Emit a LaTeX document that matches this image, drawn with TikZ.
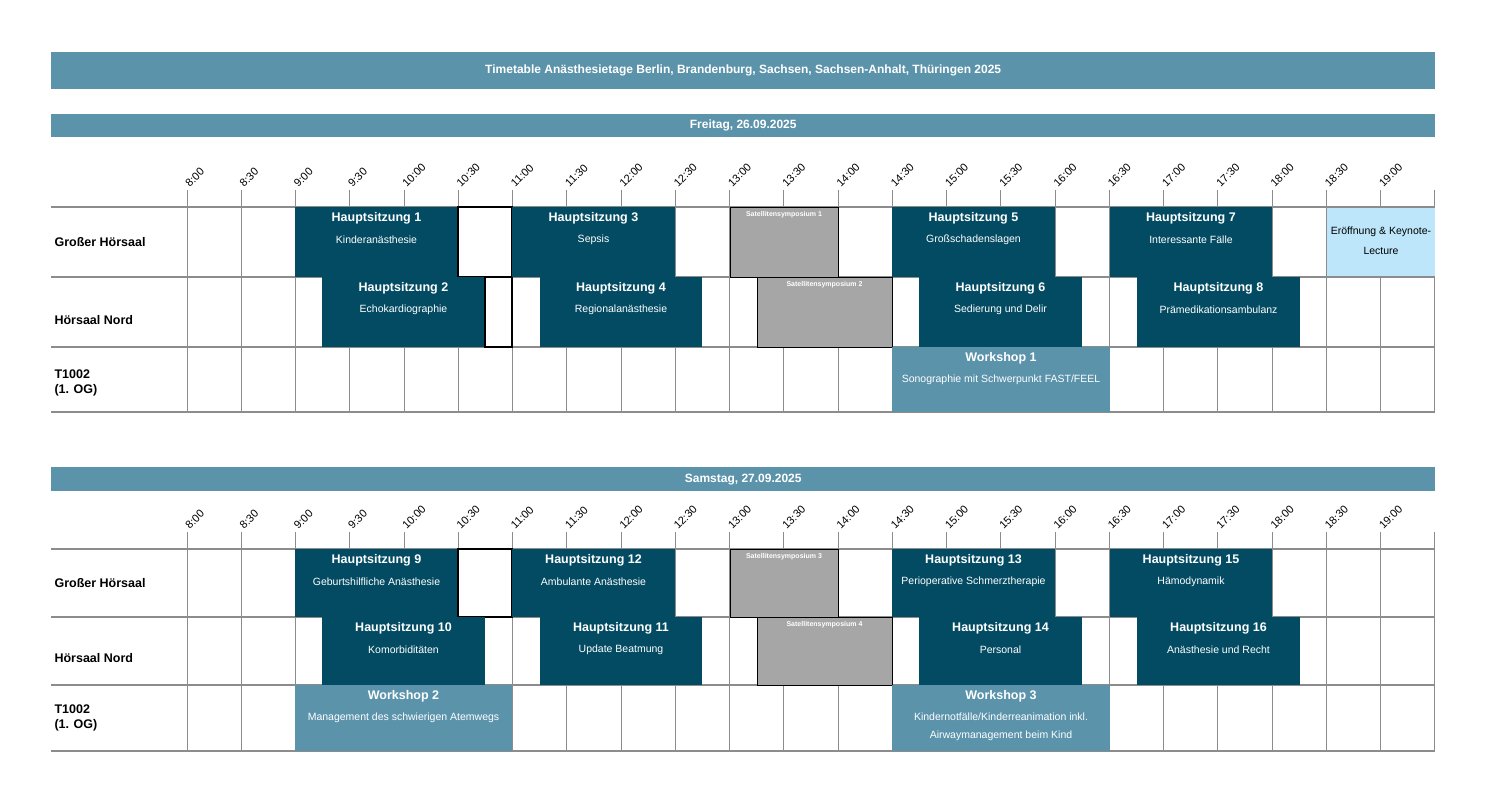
\documentclass[tikz,border=0pt]{standalone}
\usepackage{fontspec}
\setmainfont{Liberation Sans}
\definecolor{hdr}{HTML}{5B93AB}
\definecolor{dark}{HTML}{034B63}
\definecolor{sat}{HTML}{A6A6A6}
\definecolor{lb}{HTML}{BDE6FA}
\definecolor{grid}{HTML}{8C8C8C}
\tikzset{
 bar/.style={fill=hdr,draw=none,text=white,font=\bfseries\fontsize{12}{14}\selectfont},
 gl/.style={draw=grid,line width=1pt},
 hl/.style={draw=grid,line width=1.8pt},
 tlab/.style={rotate=45,anchor=south west,font=\fontsize{11}{12}\selectfont,inner sep=0pt},
 rlab/.style={anchor=west,align=left,font=\bfseries\fontsize{12.5}{15}\selectfont},
 stitle/.style={text=white,font=\bfseries\fontsize{12.5}{14}\selectfont,inner sep=0pt},
 ssub/.style={text=white,font=\fontsize{10.5}{14}\selectfont,inner sep=0pt,align=center},
 satt/.style={text=white,font=\bfseries\fontsize{7}{8}\selectfont,inner sep=0pt},
}
% \sess{name}{x1}{x2}{ytop}{ybot}{fill}{title}{sub}
\newcommand{\sess}[8]{%
 \fill[#6] (#2,#4) rectangle (#3,#5);
 \node[stitle] (#1t) at ({(#2+#3)/2},#4+11) {#7};
 \node[ssub] (#1s) at ({(#2+#3)/2},#4+33) {#8};}
\newcommand{\satbox}[6]{%
 \draw[fill=sat,line width=1pt] (#2,#3) rectangle (#4,#5);
 \node[satt] (#1) at ({(#2+#4)/2},#3+8) {#6};}
\newcommand{\dayscaffold}[6]{% ytime, r1,r2,r3,r4 , prefix
 \foreach \i/\t in {0/8:00,1/8:30,2/9:00,3/9:30,4/10:00,5/10:30,6/11:00,7/11:30,8/12:00,9/12:30,10/13:00,11/13:30,12/14:00,13/14:30,14/15:00,15/15:30,16/16:00,17/16:30,18/17:00,19/17:30,20/18:00,21/18:30,22/19:00}{
   \node[tlab] (#6t\i) at ({187+54.26*\i+3},#1) {\t};}
 \foreach \i in {0,...,23}{ \draw[gl] ({187+54.26*\i},#1+2) -- ({187+54.26*\i},#5);}
 \foreach \y in {#2,#3,#4,#5}{ \draw[hl] (51,\y) -- (1435,\y);}
}
\begin{document}
\begin{tikzpicture}[x=1pt,y=-1pt]
\useasboundingbox (0,0) rectangle (1500,796);
\node[bar,minimum width=1384pt,minimum height=37pt,anchor=north west] (title) at (51,52) {Timetable Anästhesietage Berlin, Brandenburg, Sachsen, Sachsen-Anhalt, Thüringen 2025};
% ---------- Day 1
\node[bar,minimum width=1384pt,minimum height=23pt,anchor=north west] (d1) at (51,114) {Freitag, 26.09.2025};
\dayscaffold{188}{207}{277}{347}{412}{a}
\node[rlab] (a1) at (51,242) {Großer Hörsaal};
\node[rlab] (a2) at (51,320) {Hörsaal Nord};
\node[rlab] (a3) at (51,383) {T1002\\(1. OG)};
\sess{h1}{295}{458}{207}{277}{dark}{Hauptsitzung 1}{Kinderanästhesie}
\draw[line width=1.2pt] (458,207) rectangle (512,277);
\sess{h2}{322}{485}{277}{347}{dark}{Hauptsitzung 2}{Echokardiographie}
\draw[line width=1.2pt] (485,277) rectangle (512,347);
\sess{h3}{512}{675}{207}{277}{dark}{Hauptsitzung 3}{Sepsis}
\sess{h4}{540}{702}{277}{347}{dark}{Hauptsitzung 4}{Regionalanästhesie}
\satbox{s1}{730}{207}{838}{277}{Satellitensymposium 1}
\satbox{s2}{757}{277}{892}{347}{Satellitensymposium 2}
\sess{h5}{892}{1055}{207}{277}{dark}{Hauptsitzung 5}{Großschadenslagen}
\sess{h6}{919}{1082}{277}{347}{dark}{Hauptsitzung 6}{Sedierung und Delir}
\sess{h7}{1110}{1272}{207}{277}{dark}{Hauptsitzung 7}{Interessante Fälle}
\sess{h8}{1137}{1300}{277}{347}{dark}{Hauptsitzung 8}{Prämedikationsambulanz}
\fill[lb] (1327,208) rectangle (1435,276);
\node[font=\fontsize{10.5}{20}\selectfont,align=center,inner sep=0pt] (eroe) at (1381,241) {Eröffnung \& Keynote-\\Lecture};
\sess{w1}{892}{1110}{347}{412}{hdr}{Workshop 1}{Sonographie mit Schwerpunkt FAST/FEEL}
% ---------- Day 2
\node[bar,minimum width=1384pt,minimum height=24pt,anchor=north west] (d2) at (51,467) {Samstag, 27.09.2025};
\dayscaffold{530}{549}{617}{685}{751}{b}
\node[rlab] (b1) at (51,583) {Großer Hörsaal};
\node[rlab] (b2) at (51,658) {Hörsaal Nord};
\node[rlab] (b3) at (51,718) {T1002\\(1. OG)};
\sess{h9}{295}{458}{549}{617}{dark}{Hauptsitzung 9}{Geburtshilfliche Anästhesie}
\draw[line width=1.2pt] (458,549) rectangle (512,617);
\sess{h10}{322}{485}{617}{685}{dark}{Hauptsitzung 10}{Komorbiditäten}
\sess{h12}{512}{675}{549}{617}{dark}{Hauptsitzung 12}{Ambulante Anästhesie}
\sess{h11}{540}{702}{617}{685}{dark}{Hauptsitzung 11}{Update Beatmung}
\satbox{s3}{730}{549}{838}{617}{Satellitensymposium 3}
\satbox{s4}{757}{617}{892}{685}{Satellitensymposium 4}
\sess{h13}{892}{1055}{549}{617}{dark}{Hauptsitzung 13}{Perioperative Schmerztherapie}
\sess{h14}{919}{1082}{617}{685}{dark}{Hauptsitzung 14}{Personal}
\sess{h15}{1110}{1272}{549}{617}{dark}{Hauptsitzung 15}{Hämodynamik}
\sess{h16}{1137}{1300}{617}{685}{dark}{Hauptsitzung 16}{Anästhesie und Recht}
\sess{w2}{295}{512}{685}{751}{hdr}{Workshop 2}{Management des schwierigen Atemwegs}
\fill[hdr] (892,685) rectangle (1110,751);
\node[stitle] (w3t) at (1001,696) {Workshop 3};
\node[ssub,font=\fontsize{10.5}{18}\selectfont] (w3s) at (1001,727) {Kindernotfälle/Kinderreanimation inkl.\\Airwaymanagement beim Kind};
\end{tikzpicture}
\end{document}
